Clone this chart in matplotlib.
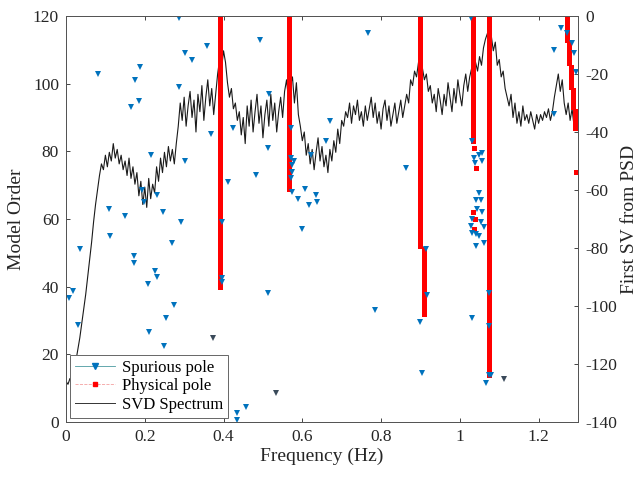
import numpy as np
import matplotlib
matplotlib.use("Agg")
import matplotlib.pyplot as plt
from matplotlib.lines import Line2D

plt.rcParams['font.family'] = ['Liberation Serif', 'DejaVu Serif']
plt.rcParams['axes.unicode_minus'] = False

# first singular value of the PSD (dB), sampled every 0.005 Hz from 0 to 1.3 Hz
svd_db = [
    -126, -127, -125, -126, -123, -119, -115, -111, -106, -101,
    -96, -90, -84, -78, -71, -65, -60, -55, -51, -53,
    -48, -52, -47, -50, -44, -49, -46, -51, -48, -53,
    -50, -55, -49, -56, -52, -58, -54, -62, -57, -65,
    -59, -66, -56, -63, -58, -61, -52, -57, -49, -54,
    -47, -52, -45, -50, -46, -51, -44, -38, -30, -36,
    -28, -38, -31, -26, -35, -29, -40, -27, -33, -24,
    -36, -28, -22, -31, -25, -34, -27, -20, -15, -18,
    -12, -16, -23, -28, -25, -32, -30, -36, -33, -41,
    -35, -44, -31, -38, -29, -40, -33, -27, -37, -31,
    -42, -34, -29, -38, -27, -36, -30, -40, -33, -28,
    -35, -26, -22, -29, -24, -21, -30, -23, -34, -38,
    -43, -40, -48, -44, -51, -46, -53, -47, -42, -50,
    -45, -52, -48, -54, -46, -50, -43, -47, -39, -44,
    -36, -38, -33, -35, -30, -37, -31, -34, -29, -36,
    -33, -38, -31, -36, -32, -28, -35, -30, -37, -33,
    -39, -32, -29, -36, -31, -38, -34, -30, -37, -33,
    -29, -35, -31, -27, -30, -22, -24, -19, -21, -16,
    -15, -18, -22, -20, -26, -24, -30, -27, -33, -25,
    -29, -34, -27, -31, -23, -28, -33, -25, -30, -22,
    -27, -31, -24, -20, -26, -21, -18, -22, -16, -19,
    -14, -17, -11, -8, -6, -4, -7, -12, -9, -17,
    -15, -21, -19, -25, -28, -31, -27, -35, -30, -37,
    -33, -38, -31, -36, -34, -37, -33, -36, -39, -34,
    -37, -34, -36, -33, -35, -32, -36, -33, -28, -24,
    -20, -26, -22, -30, -34, -30, -36, -32, -38, -34,
    -36,
]
svd_freq = np.linspace(0, 1.3, len(svd_db))

# stable (physical) pole columns: frequency and model-order range
phys_col_freq = [0.390, 0.566, 0.899, 0.909, 1.034, 1.075,
                 1.271, 1.276, 1.282, 1.288, 1.292]
phys_col_lo = [40, 69, 52, 32, 83, 14, 113, 106, 99, 93, 87]
phys_col_hi = [120, 120, 120, 51, 120, 120, 120, 112, 105, 98, 92]
# isolated physical poles
phys_f = [1.294, 1.036, 1.040, 1.034, 1.038, 1.036]
phys_order = [74, 81, 75, 62, 60, 57]

# spurious poles
spur_f = [0.286, 0.081, 0.187, 0.175, 0.301, 0.319, 0.359, 0.286, 0.185, 0.165,
          0.367, 0.423, 0.217, 0.303, 0.483, 0.412, 0.192, 0.198, 0.232, 0.109,
          0.149, 0.246, 0.293, 0.395, 0.493, 0.111, 0.268, 0.035, 0.172, 0.172,
          0.225, 0.232, 0.208, 0.395, 0.395, 0.018, 0.008, 0.273, 0.031, 0.255,
          0.211, 0.248, 0.458, 0.433, 0.433, 0.767, 0.516, 0.512, 0.671, 0.661,
          0.622, 0.571, 0.571, 0.573, 0.578, 0.575, 0.571, 0.575, 0.589, 0.607,
          0.635, 0.637, 0.618, 0.600, 0.864, 0.913, 0.917, 0.512, 0.784, 0.899,
          0.903, 1.028, 1.238, 1.256, 1.271, 1.285, 1.289, 1.294, 1.238, 1.031,
          1.048, 1.056, 1.036, 1.038, 1.056, 1.048, 1.040, 1.053, 1.043, 1.056,
          1.031, 1.053, 1.061, 1.028, 1.031, 1.040, 1.048, 1.040, 1.061, 1.073,
          1.073, 1.073, 1.078, 1.066, 1.031]
spur_order = [119.4, 103, 105, 101, 109, 107, 111, 99, 95, 93,
              85, 87, 79, 77, 73, 71, 68.6, 65, 67, 63,
              61, 62, 59, 59, 113, 55, 53, 51, 49, 47,
              44.6, 42.9, 40.8, 42.5, 41.5, 38.7, 36.7, 34.6, 28.7, 30.7,
              26.6, 22.5, 4.4, 2.7, 0.6, 115, 97, 81, 89, 83,
              79, 87, 78, 76, 77, 74, 72, 68, 66, 69,
              67, 65, 64, 57, 75, 51, 37.5, 38, 33, 29.6,
              14.5, 119.4, 110, 116.4, 115, 112, 109, 103.5, 91, 83,
              79, 79.5, 78, 76.5, 77, 67.6, 65.6, 65.6, 63, 62,
              60, 59, 57.5, 58, 56, 55.5, 55, 52, 53, 38,
              28.4, 14, 14, 11.5, 30.7]
# a few darker unstable marks
other_f = [0.373, 0.533, 1.111]
other_order = [24.8, 8.7, 12.7]

fig = plt.figure(figsize=(6.44, 4.79), dpi=100)
ax = fig.add_axes([0.1025, 0.119, 0.795, 0.8476])
ax2 = ax.twinx()
ax.set_zorder(ax2.get_zorder() + 1)
ax.patch.set_visible(False)

blue = '#0072BD'
ax2.plot(svd_freq, svd_db, color='#1a1a1a', lw=0.8)

for f, lo, hi in zip(phys_col_freq, phys_col_lo, phys_col_hi):
    orders = np.arange(lo, hi + 1)
    ax.plot(np.full(len(orders), f), orders, 's', color='red', ms=3.6, mew=0)
ax.plot(phys_f, phys_order, 's', color='red', ms=3.6, mew=0)
ax.plot(spur_f, spur_order, 'v', color=blue, ms=4.5, mew=0)
ax.plot(other_f, other_order, 'v', color='#3a4a5a', ms=4.5, mew=0)

ax.set_xlim(0, 1.3)
ax.set_ylim(0, 120)
ax2.set_ylim(-140, 0)
ax.set_xticks([0, 0.2, 0.4, 0.6, 0.8, 1.0, 1.2])
ax.set_xticklabels(['0', '0.2', '0.4', '0.6', '0.8', '1', '1.2'])
ax.set_yticks(range(0, 121, 20))
ax2.set_yticks(range(-140, 1, 20))

for a in (ax, ax2):
    a.tick_params(direction='in', length=3, width=0.6, labelsize=12.5,
                  colors='#262626', pad=5)
    for s in a.spines.values():
        s.set_color('#555555')
        s.set_linewidth(0.7)
ax.tick_params(top=True)

ax.set_xlabel('Frequency (Hz)', fontsize=14, color='#262626', labelpad=2)
ax.set_ylabel('Model Order', fontsize=14, color='#262626', labelpad=6)
ax2.set_ylabel('First SV from PSD', fontsize=14, color='#262626', labelpad=3)

handles = [
    Line2D([], [], color='#4a9aa0', lw=0.6, marker='v', mfc=blue, mec=blue, ms=4),
    Line2D([], [], color='#f4a0a0', lw=0.6, ls='--', marker='s', mfc='red', mec='red', ms=3.5),
    Line2D([], [], color='#333333', lw=0.7),
]
leg = ax.legend(handles, ['Spurious pole', 'Physical pole', 'SVD Spectrum'],
                loc='lower left', fontsize=12, fancybox=False, framealpha=1,
                edgecolor='#666666', borderaxespad=0.25, handlelength=2.4,
                labelspacing=0.15, borderpad=0.3, handletextpad=0.4)
leg.get_frame().set_linewidth(0.7)

fig.savefig('out.png', dpi=100)
